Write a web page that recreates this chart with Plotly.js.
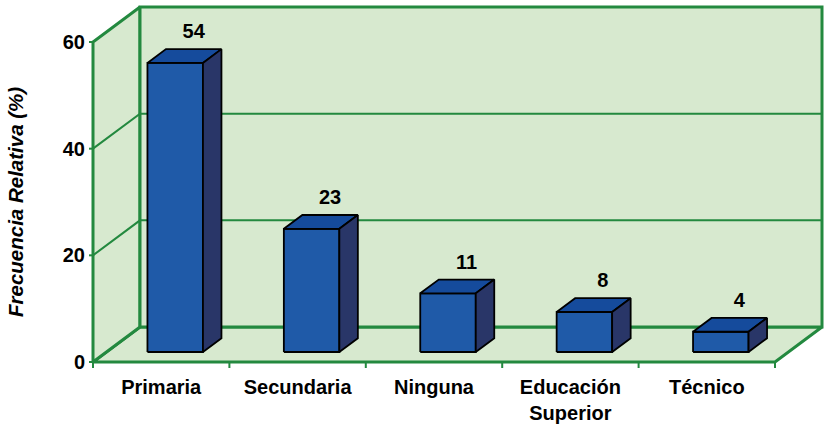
<!DOCTYPE html>
<html>
<head>
<meta charset="utf-8">
<script src="https://cdn.plot.ly/plotly-3.0.1.min.js"></script>
<style>html,body{margin:0;padding:0;background:#fff;}#chart{width:824px;height:427px;}</style>
</head>
<body>
<div id="chart"></div>
<script>
// ---- data ----
const categories = ["Primaria", "Secundaria", "Ninguna", "Educación<br>Superior", "Técnico"];
const values = [54.2, 23.1, 11.0, 7.5, 3.8];
const valueLabels = ["54", "23", "11", "8", "4"];
const yTicks = [0, 20, 40, 60];
const yTickText = ["0", "20", "40", "60"];
const gridValues = [20, 40];
const wallTop = 60;

// ---- geometry (pixel scale of the axes) ----
const PXX = 136.4, PXY = 16 / 3;
const WDX = 47 / PXX, WDY = 35 / PXY;       // wall depth
const FDX = 14 / PXX, FDY = 10 / PXY;       // bar front offset
const BDX = 18.5 / PXX, BDY = 13.8 / PXY;   // bar depth
const BW = 55.5 / PXX;                       // bar width
const XL = -0.5, XR = categories.length - 0.5;
const LABEL_UP = 16 / PXY;

const GREEN = "#23893f", WALL = "#d7e9cf";
const FRONT = "#1f5aa8", TOP = "#154b9c", SIDE = "#293668";
const FONT = "Liberation Sans, Arial, sans-serif";

const traces = [];
function poly(xs, ys, fill, lc, lw) {
  traces.push({x: xs.concat([xs[0]]), y: ys.concat([ys[0]]), mode: "lines", fill: "toself",
    fillcolor: fill, line: {color: lc, width: lw}, hoverinfo: "skip", showlegend: false});
}
// floor, left wall, back wall
poly([XL, XR, XR + WDX, XL + WDX], [0, 0, WDY, WDY], WALL, GREEN, 3);
poly([XL, XL + WDX, XL + WDX, XL], [0, WDY, wallTop + WDY, wallTop], WALL, GREEN, 3);
poly([XL + WDX, XR + WDX, XR + WDX, XL + WDX], [WDY, WDY, wallTop + WDY, wallTop + WDY], WALL, GREEN, 3);

// gridlines
const gx = [], gy = [];
gridValues.forEach(t => {
  gx.push(XL, XL + WDX, XR + WDX, null);
  gy.push(t, t + WDY, t + WDY, null);
});
traces.push({x: gx, y: gy, mode: "lines", line: {color: GREEN, width: 2}, hoverinfo: "skip", showlegend: false});

// tick marks
const tx = [], ty = [];
yTicks.forEach(t => { tx.push(XL - 4 / PXX, XL, null); ty.push(t, t, null); });
for (let i = 0; i <= categories.length; i++) {
  tx.push(XL + i, XL + i, null); ty.push(0, -6 / PXY, null);
}
traces.push({x: tx, y: ty, mode: "lines", line: {color: GREEN, width: 2}, hoverinfo: "skip", showlegend: false});

// bars
const lx = [], ly = [];
values.forEach((v, i) => {
  const x0 = i - BW / 2 + FDX, x1 = i + BW / 2 + FDX;
  const y0 = FDY, y1 = v + FDY;
  poly([x0, x1, x1, x0], [y0, y0, y1, y1], FRONT, "#000", 1.8);
  poly([x0, x1, x1 + BDX, x0 + BDX], [y1, y1, y1 + BDY, y1 + BDY], TOP, "#000", 1.8);
  poly([x1, x1 + BDX, x1 + BDX, x1], [y0, y0 + BDY, y1 + BDY, y1], SIDE, "#000", 1.8);
  lx.push(i + FDX + BDX);
  ly.push(v + FDY + BDY + LABEL_UP);
});
traces.push({x: lx, y: ly, mode: "text", text: valueLabels, textposition: "middle center",
  textfont: {family: FONT, size: 20, weight: "bold", color: "#000"}, cliponaxis: false,
  hoverinfo: "skip", showlegend: false});

const layout = {
  width: 824, height: 427,
  margin: {l: 88, r: 0, t: 3, b: 58},
  paper_bgcolor: "#fff", plot_bgcolor: "rgba(0,0,0,0)",
  font: {family: FONT, color: "#000"},
  xaxis: {range: [XL - 5 / PXX, XL + 731 / PXX], tickmode: "array", tickvals: categories.map((c, i) => i),
    ticktext: categories, ticks: "", showgrid: false, zeroline: false, showline: false,
    ticklabelstandoff: 4,
    tickfont: {family: FONT, size: 20, weight: "bold", color: "#000"}, fixedrange: true},
  yaxis: {range: [-7 / PXY, 359 / PXY], tickmode: "array", tickvals: yTicks, ticktext: yTickText,
    ticks: "", showgrid: false, zeroline: false, showline: false, ticklabelstandoff: 2,
    tickfont: {family: FONT, size: 20, weight: "bold", color: "#000"}, fixedrange: true},
  annotations: [{text: "Frecuencia Relativa (%)", textangle: -90, showarrow: false,
    xref: "paper", yref: "y", x: (15 - 88) / 736, y: 30, xanchor: "center", yanchor: "middle",
    font: {family: FONT, size: 20.5, style: "italic", weight: "bold", color: "#000"}}]
};
Plotly.newPlot("chart", traces, layout, {displayModeBar: false, staticPlot: true});
</script>
</body>
</html>
